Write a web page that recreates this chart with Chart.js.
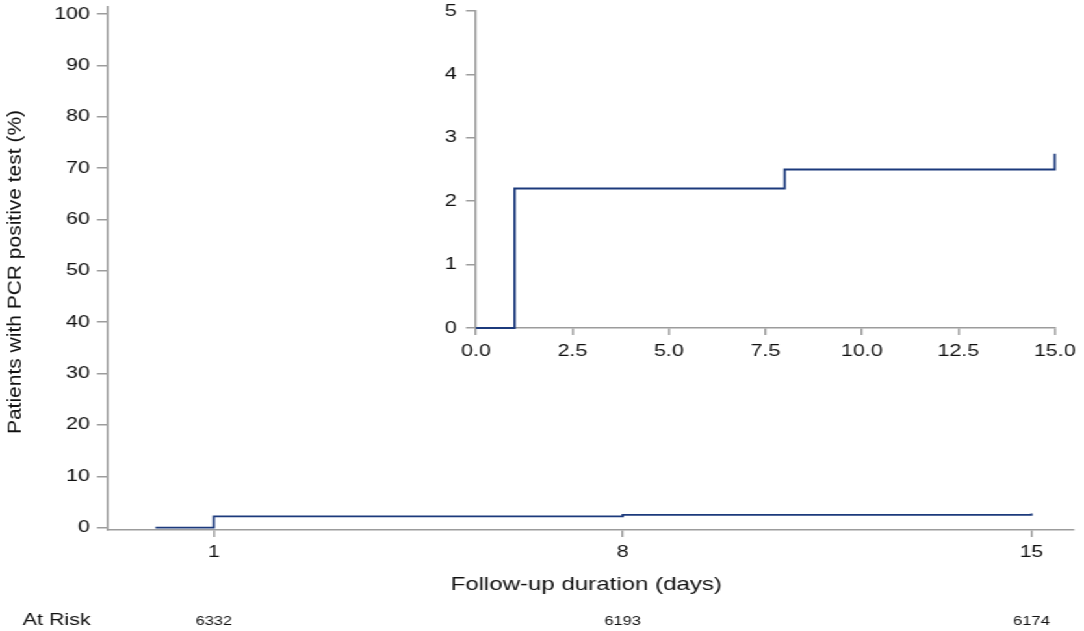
<!DOCTYPE html>
<html>
<head>
<meta charset="utf-8">
<script src="https://cdn.jsdelivr.net/npm/chart.js@4"></script>
<style>
  body { margin: 0; background: #fff; overflow: hidden; }
  /* the original figure is drawn a bit wide, so the whole plot gets stretched */
  #wrap { position: relative; width: 834px; height: 631px; transform: scaleX(1.2998); transform-origin: 0 0; }
  #inset { position: absolute; left: 300px; top: 0; }
</style>
</head>
<body>
<div id="wrap">
  <canvas id="main" width="834" height="631"></canvas>
  <canvas id="inset" width="534" height="370"></canvas>
</div>
<script>
// cumulative % of patients with a positive PCR test, by day of follow-up
const days = [0, 1, 8, 15];
const cumPositive = [0, 2.2, 2.5, 2.75];

// number at risk row
const riskDays = [1, 8, 15];
const atRisk = [6332, 6193, 6174];

const mainXTicks = [1, 8, 15];
const mainYTicks = [0, 10, 20, 30, 40, 50, 60, 70, 80, 90, 100];
const insetXTicks = [0, 2.5, 5, 7.5, 10, 12.5, 15];
const insetYTicks = [0, 1, 2, 3, 4, 5];

const navy = "#1c3a7c";
const axisGrey = "#9c9c9c";
const textCol = "#111";

Chart.defaults.font.family = "'Liberation Sans', Arial, sans-serif";
Chart.defaults.color = textCol;
Chart.defaults.animation = false;

const points = days.map((d, i) => ({ x: d, y: cumPositive[i] }));

function axisStyle(tickLen) {
    return {
        border: { display: true, color: axisGrey, width: 1.5 },
        grid: { drawOnChartArea: false, drawTicks: true, tickLength: tickLen, color: axisGrey, lineWidth: 1.5 },
    };
}

// fixed axis box sizes, no extra room for the end labels
function fixX(h) {
    return (s) => { s.height = h; s.paddingLeft = 0; s.paddingRight = 0; };
}
function fixY(w) {
    return (s) => { s.width = w; s.paddingTop = 0; s.paddingBottom = 0; };
}

const textPlugin = {
    id: "texts",
    afterDraw(chart) {
        const c = chart.ctx;
        const xs = chart.scales.x;
        c.save();
        c.fillStyle = textCol;

        // y title, drawn by hand so it is not widened by the stretch
        c.save();
        c.translate(16.2, 272);
        c.rotate(-Math.PI / 2);
        c.scale(1.117, 1 / 1.2998);
        c.font = "18.8px 'Liberation Sans', Arial, sans-serif";
        c.textAlign = "center";
        c.textBaseline = "alphabetic";
        c.fillText("Patients with PCR positive test (%)", 0, 0);
        c.restore();

        // x title
        c.font = "18.5px 'Liberation Sans', Arial, sans-serif";
        c.textAlign = "center";
        c.textBaseline = "alphabetic";
        c.fillText("Follow-up duration (days)", 451, 590);

        // at risk row
        c.font = "16.5px 'Liberation Sans', Arial, sans-serif";
        c.textAlign = "left";
        c.fillText("At Risk", 17.5, 625);
        c.font = "12.7px 'Liberation Sans', Arial, sans-serif";
        c.textAlign = "center";
        riskDays.forEach((d, i) => {
            c.fillText(String(atRisk[i]), xs.getPixelForValue(d), 625);
        });
        c.restore();
    },
};

new Chart(document.getElementById("main"), {
    type: "line",
    data: {
        datasets: [{
            data: points,
            stepped: "before",
            borderColor: navy,
            borderWidth: 1.8,
            pointRadius: 0,
            fill: false,
            clip: false,
        }],
    },
    options: {
        responsive: false,
        layout: { padding: { left: 0, right: 8.5, top: 7, bottom: 0 } },
        plugins: { legend: { display: false }, tooltip: { enabled: false } },
        scales: {
            x: {
                type: "linear",
                min: -0.83,
                max: 15.71,
                afterBuildTicks: (s) => { s.ticks = mainXTicks.map((v) => ({ value: v })); },
                afterFit: fixX(101),
                ticks: { font: { size: 16.5 }, padding: 6, color: textCol },
                ...axisStyle(7),
            },
            y: {
                type: "linear",
                min: -0.45,
                max: 101.36,
                afterBuildTicks: (s) => { s.ticks = mainYTicks.map((v) => ({ value: v })); },
                afterFit: fixY(82.3),
                ticks: { font: { size: 16.5 }, padding: 5.4, color: textCol },
                ...axisStyle(7.7),
            },
        },
    },
    plugins: [textPlugin],
});

new Chart(document.getElementById("inset"), {
    type: "line",
    data: {
        datasets: [{
            data: points,
            stepped: "before",
            borderColor: navy,
            borderWidth: 1.8,
            pointRadius: 0,
            fill: false,
            clip: false,
        }],
    },
    options: {
        responsive: false,
        layout: { padding: { left: 0, right: 22.5, top: 11, bottom: 0 } },
        plugins: { legend: { display: false }, tooltip: { enabled: false } },
        scales: {
            x: {
                type: "linear",
                min: 0,
                max: 15,
                afterBuildTicks: (s) => { s.ticks = insetXTicks.map((v) => ({ value: v })); },
                afterFit: fixX(42),
                ticks: { font: { size: 16.5 }, padding: 7, color: textCol, callback: (v) => v.toFixed(1) },
                ...axisStyle(7),
            },
            y: {
                type: "linear",
                min: 0,
                max: 5,
                afterBuildTicks: (s) => { s.ticks = insetYTicks.map((v) => ({ value: v })); },
                afterFit: fixY(66.2),
                ticks: { font: { size: 16.5 }, padding: 7, color: textCol },
                ...axisStyle(7.7),
            },
        },
    },
});
</script>
</body>
</html>
